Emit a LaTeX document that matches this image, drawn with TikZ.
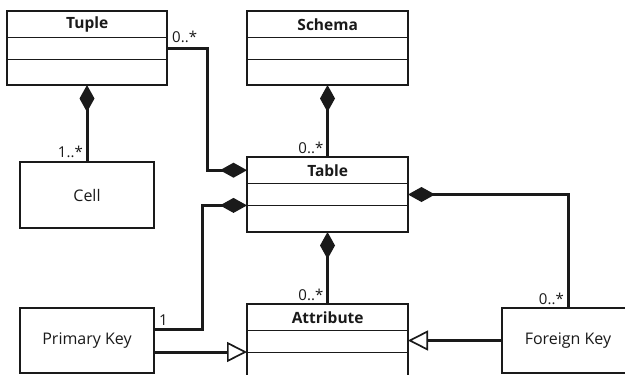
\documentclass[tikz,border=0pt]{standalone}
\usepackage{fontspec}
\setmainfont{Open Sans}
\usetikzlibrary{arrows.meta,calc}
\definecolor{ink}{HTML}{1A1A1A}
\newcommand\classbox[6]{%
  \node[box, minimum width=#4pt, minimum height=#5pt, anchor=north west] (#1) at (#2,#3) {};
  \node[ttl, minimum width=#4pt, minimum height=26pt, anchor=north west] (#1T) at (#2,#3) {#6};
  \draw[divl] (#1T.south west) -- (#1T.south east);
  \draw[divl] ([yshift=-22pt]#1T.south west) -- ([yshift=-22pt]#1T.south east);
}
\begin{document}
\begin{tikzpicture}[x=1pt,y=-1pt,
  box/.style={draw=ink, line width=1.7pt, inner sep=0pt, outer sep=0pt},
  divl/.style={draw=ink, line width=1.5pt},
  ttl/.style={inner sep=0pt, text=ink, font=\fontsize{15.5}{18}\selectfont\bfseries},
  lbl/.style={text=ink, font=\fontsize{16}{19}\selectfont},
  mult/.style={text=ink, inner sep=1pt, font=\fontsize{15}{17}\selectfont},
  conn/.style={draw=ink, line width=3pt},
  comp/.style={conn, -{Diamond[length=27pt,width=15pt]}},
  gen/.style={conn, -{Triangle[open,length=20pt,width=20pt,line width=1.7pt]}}]
\useasboundingbox (0,0) rectangle (625,375);
\clip (0,0) rectangle (625,375);
\fill[white] (0,0) rectangle (625,375);

\classbox{tuple}{7}{11}{160}{74}{Tuple}
\classbox{schema}{247}{11}{161}{74}{Schema}
\classbox{table}{247}{157}{161}{75}{Table}
\classbox{attr}{247}{304}{161}{120}{Attribute}

\node[box, lbl, minimum width=134pt, minimum height=66pt, anchor=north west] (cell) at (20,162) {Cell};
\node[box, lbl, minimum width=134pt, minimum height=65pt, anchor=north west] (pk) at (20,308) {Primary Key};
\node[box, lbl, minimum width=132pt, minimum height=65pt, anchor=north west] (fk) at (502,308) {Foreign Key};

\coordinate (pkA) at ($(pk.north east)+(0,21)$);
\coordinate (pkG) at ($(pk.north east)+(0,44)$);
\coordinate (tabL) at ([yshift=-22pt]tableT.south west);

% compositions
\draw[comp] (cell.north) -- (tuple.south);
\node[mult, anchor=south east] at ([xshift=-3pt,yshift=3pt]cell.north) {1..*};

\draw[comp] (tuple.east) -- ++(40,0) |- (tableT.west);
\node[mult, anchor=south west] at ([xshift=4pt,yshift=4pt]tuple.east) {0..*};

\draw[comp] (table.north) -- (schema.south);
\node[mult, anchor=south east] at ([xshift=-3pt,yshift=2pt]table.north) {0..*};

\draw[comp] (attr.north) -- (table.south);
\node[mult, anchor=south east] at ([xshift=-3pt,yshift=2pt]attr.north) {0..*};

\draw[comp] (pkA) -- ++(48,0) |- (tabL);
\node[mult, anchor=south west] at ([xshift=4pt,yshift=2pt]pkA) {1};

\draw[comp] (fk.north) |- (table.east);
\node[mult, anchor=south east] at ([xshift=-3pt,yshift=2pt]fk.north) {0..*};

% generalizations
\draw[gen] (pkG) -- (pkG -| attr.west);
\draw[gen] (fk.west) -- (fk.west -| attr.east);
\end{tikzpicture}
\end{document}
